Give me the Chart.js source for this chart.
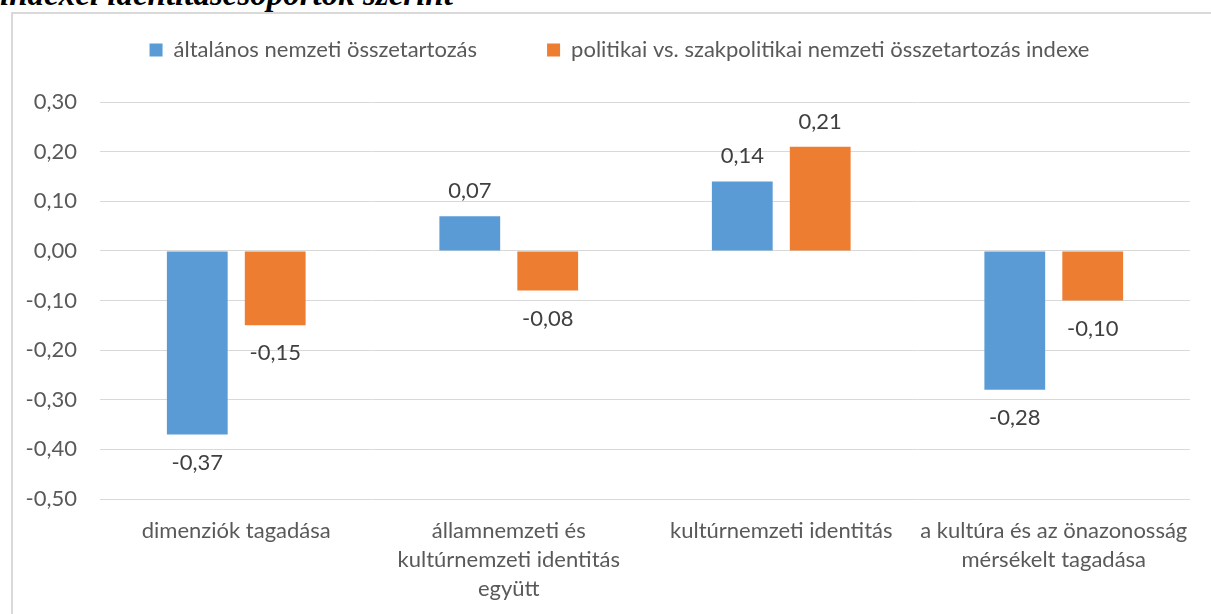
<!DOCTYPE html>
<html lang="hu">
<head>
<meta charset="utf-8">
<script src="https://cdn.jsdelivr.net/npm/chart.js@4"></script>
<style>
  html, body { margin: 0; padding: 0; background: #fff; overflow: hidden; }
  #wrap { position: relative; width: 1211px; height: 614px; overflow: hidden; }
  #caption {
    position: absolute; left: 0; top: -22px; margin: 0;
    font: bold italic 33px/33px "Liberation Serif", "DejaVu Serif", serif;
    color: #000; white-space: nowrap;
  }
  #frame {
    position: absolute; left: 11px; top: 12px; width: 1260px; height: 700px;
    border: 2px solid #d9d9d9; box-sizing: border-box;
  }
  #chart { position: absolute; left: 0; top: 0; }
</style>
</head>
<body>
<div id="wrap">
  <p id="caption">indexei identitáscsoportok szerint</p>
  <div id="frame"></div>
  <canvas id="chart" width="1211" height="614"></canvas>
</div>
<script>
// Identity groups (category axis), wrapped into lines
const categories = [
  ['dimenziók tagadása'],
  ['államnemzeti és', 'kultúrnemzeti identitás', 'együtt'],
  ['kultúrnemzeti identitás'],
  ['a kultúra és az önazonosság', 'mérsékelt tagadása']
];
const seriesNames = [
  'általános nemzeti összetartozás',
  'politikai vs. szakpolitikai nemzeti összetartozás indexe'
];
const generalBelonging = [-0.37, 0.07, 0.14, -0.28];
const policyIndex = [-0.15, -0.08, 0.21, -0.10];
const yTicks = [0.30, 0.20, 0.10, 0.00, -0.10, -0.20, -0.30, -0.40, -0.50];

const fmt = v => (Math.abs(v) < 1e-9 ? 0 : v).toFixed(2).replace('.', ',');
const FONT = 'Lato';
const FONT_SIZE = 22;
const LEGEND_GAP = 70;

// Value labels above positive bars, below negative ones
const valueLabels = {
  id: 'valueLabels',
  afterDatasetsDraw(chart) {
    const ctx = chart.ctx;
    ctx.save();
    ctx.font = FONT_SIZE + 'px ' + FONT;
    ctx.fillStyle = '#404040';
    ctx.textAlign = 'center';
    ctx.textBaseline = 'middle';
    chart.data.datasets.forEach((ds, i) => {
      chart.getDatasetMeta(i).data.forEach((bar, j) => {
        const v = ds.data[j];
        const y = v >= 0 ? bar.y - 25 : bar.y + 28;
        ctx.fillText(fmt(v), bar.x, y);
      });
    });
    ctx.restore();
  }
};

// Fixed legend band height; the legend row sits at y≈50, centred slightly right
const legendBand = {
  id: 'legendBand',
  beforeInit(chart) {
    const lg = chart.legend;
    if (!lg) return;
    const fit = lg.fit;
    lg.fit = function () { fit.call(this); this.height = 73; };
  },
  afterLayout(chart) {
    const lg = chart.legend;
    if (!lg) return;
    lg.left += 17;
    lg.right += 17;
    lg.top = 50 - FONT_SIZE / 2 - LEGEND_GAP;
    lg.bottom = 100;
  }
};

new Chart(document.getElementById('chart'), {
  type: 'bar',
  data: {
    labels: categories,
    datasets: [
      { label: seriesNames[0], data: generalBelonging, backgroundColor: '#5B9BD5',
        categoryPercentage: 0.572, barPercentage: 0.78 },
      { label: seriesNames[1], data: policyIndex, backgroundColor: '#ED7D31',
        categoryPercentage: 0.572, barPercentage: 0.78 }
    ]
  },
  options: {
    responsive: false,
    animation: false,
    layout: { padding: { left: 15, right: 21, top: 29, bottom: 0 } },
    plugins: {
      legend: {
        position: 'top',
        labels: {
          boxWidth: 13, boxHeight: 13, padding: LEGEND_GAP,
          color: '#595959', font: { family: FONT, size: FONT_SIZE }
        }
      },
      tooltip: { enabled: false }
    },
    scales: {
      x: {
        grid: { display: false, drawTicks: false },
        border: { display: false },
        ticks: {
          color: '#595959', padding: 17, maxRotation: 0, autoSkip: false,
          font: { family: FONT, size: FONT_SIZE, lineHeight: 1.32 }
        },
        afterFit(scale) { scale.height = 115; }
      },
      y: {
        min: -0.5, max: 0.3,
        afterBuildTicks(scale) { scale.ticks = yTicks.map(v => ({ value: v })); },
        grid: { color: '#d9d9d9', lineWidth: 1, drawTicks: false },
        border: { display: false },
        ticks: {
          color: '#595959', padding: 23,
          font: { family: FONT, size: FONT_SIZE },
          callback: v => fmt(v)
        },
        afterFit(scale) { scale.width = 85; }
      }
    }
  },
  plugins: [valueLabels, legendBand]
});
</script>
</body>
</html>
